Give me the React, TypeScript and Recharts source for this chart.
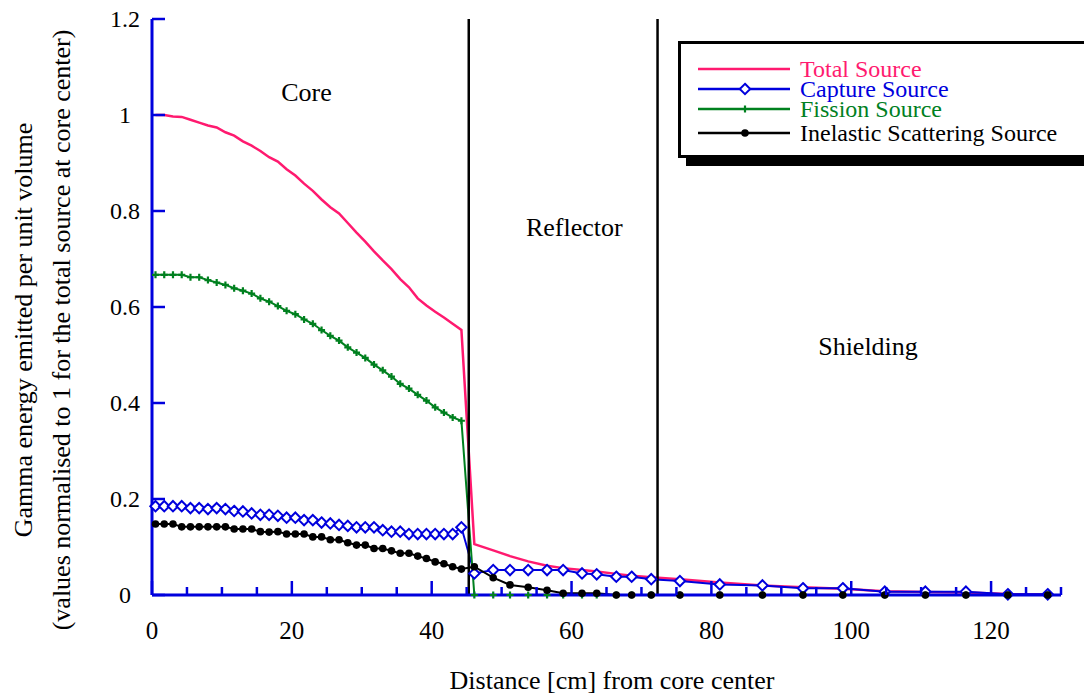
import React from 'react';
import { LineChart, Line, XAxis, YAxis, ReferenceLine, ReferenceDot, Legend } from 'recharts';

// distance from core center [cm]: core mesh, reflector mesh, shielding mesh
const distance = [
  0.5, 1.75, 3.0, 4.25, 5.5, 6.75, 8.0, 9.25, 10.5, 11.75, 13.0, 14.25, 15.5, 16.75, 18.0, 19.25,
  20.5, 21.75, 23.0, 24.25, 25.5, 26.75, 28.0, 29.25, 30.5, 31.75, 33.0, 34.25, 35.5, 36.75, 38.0,
  39.25, 40.5, 41.75, 43.0, 44.25,
  46.1, 48.8, 51.2, 53.8, 56.5, 58.8, 61.5, 63.6, 66.4, 68.6, 71.4,
  75.5, 81.2, 87.3, 93.1, 98.8, 104.8, 110.6, 116.4, 122.4, 128.1,
];

const totalSource = [
  1.0, 1.0, 0.997, 0.996, 0.99, 0.984, 0.978, 0.974, 0.964, 0.957, 0.945, 0.936, 0.925, 0.912, 0.903, 0.887,
  0.874, 0.857, 0.842, 0.824, 0.808, 0.795, 0.775, 0.755, 0.736, 0.716, 0.697, 0.679, 0.658, 0.641, 0.618,
  0.603, 0.59, 0.578, 0.565, 0.552,
  0.106, 0.093, 0.081, 0.07, 0.061, 0.056, 0.052, 0.049, 0.044, 0.04, 0.037,
  0.033, 0.026, 0.02, 0.016, 0.013, 0.008, 0.006, 0.005, 0.002, 0.001,
];

const captureSource = [
  0.185, 0.185, 0.185, 0.185, 0.181, 0.181, 0.179, 0.181, 0.179, 0.175, 0.174, 0.17, 0.167, 0.167, 0.165, 0.161,
  0.161, 0.156, 0.156, 0.151, 0.149, 0.146, 0.144, 0.141, 0.141, 0.141, 0.135, 0.132, 0.132, 0.127, 0.127,
  0.127, 0.127, 0.127, 0.127, 0.141,
  0.045, 0.052, 0.052, 0.052, 0.052, 0.052, 0.045, 0.043, 0.038, 0.038, 0.033,
  0.029, 0.022, 0.02, 0.014, 0.014, 0.007, 0.007, 0.007, 0.0015, 0.0015,
];

const fissionSource = [
  0.667, 0.667, 0.667, 0.667, 0.662, 0.662, 0.656, 0.651, 0.646, 0.639, 0.634, 0.628, 0.618, 0.611, 0.602, 0.592,
  0.585, 0.574, 0.565, 0.552, 0.54, 0.53, 0.516, 0.505, 0.494, 0.48, 0.468, 0.455, 0.44, 0.43, 0.417,
  0.405, 0.391, 0.38, 0.37, 0.363,
  0, 0, 0, 0, 0, 0, 0, 0, 0, 0, 0,
  0, 0, 0, 0, 0, 0, 0, 0, 0, 0,
];

const inelasticSource = [
  0.148, 0.148, 0.148, 0.142, 0.142, 0.142, 0.142, 0.142, 0.142, 0.1375, 0.1375, 0.1375, 0.132, 0.131, 0.132, 0.127,
  0.127, 0.127, 0.121, 0.121, 0.115, 0.115, 0.109, 0.104, 0.104, 0.097, 0.097, 0.092, 0.087, 0.087, 0.081,
  0.076, 0.069, 0.065, 0.059, 0.054,
  0.059, 0.036, 0.021, 0.016, 0.01, 0.0035, 0.0035, 0.0035, 0, 0, 0,
  0, 0, 0, 0, 0, 0, 0, 0, 0, 0,
];

const xTicks = [0, 5, 10, 15, 20, 25, 30, 35, 40, 45, 50, 55, 60, 65, 70, 75, 80, 85, 90, 95, 100, 105, 110, 115, 120, 125, 130];
const yTicks = [0, 0.2, 0.4, 0.6, 0.8, 1, 1.2];

const regionBounds = [45.3, 72.3];
const regionNames = ['Core', 'Reflector', 'Shielding'];
const regionNameX = [22.1, 60.4, 102.4];
const regionNameY = [1.048, 0.767, 0.519];

const BLUE = '#0000dd';
const PINK = '#ff1a6f';
const GREEN = '#00801f';
const BLACK = '#000000';
const FONT = '"Liberation Serif", "Times New Roman", serif';

const series = [
  { key: 'total', name: 'Total Source', color: PINK, marker: 'none' },
  { key: 'capture', name: 'Capture Source', color: BLUE, marker: 'diamond' },
  { key: 'fission', name: 'Fission Source', color: GREEN, marker: 'plus' },
  { key: 'inelastic', name: 'Inelastic Scattering Source', color: BLACK, marker: 'circle' },
];

const data = distance.map((x, i) => ({
  x,
  total: totalSource[i],
  capture: captureSource[i],
  fission: fissionSource[i],
  inelastic: inelasticSource[i],
}));

function marker(type: string, cx: number, cy: number, color: string, key?: string) {
  if (type === 'diamond') {
    const r = 5.2;
    return (
      <path key={key} d={`M${cx},${cy - r}L${cx + r},${cy}L${cx},${cy + r}L${cx - r},${cy}Z`}
        fill="#fff" stroke={color} strokeWidth={2} />
    );
  }
  if (type === 'plus') {
    const r = 3.5;
    return (
      <path key={key} d={`M${cx - r},${cy}H${cx + r}M${cx},${cy - r}V${cy + r}`} stroke={color} strokeWidth={2.2} />
    );
  }
  if (type === 'circle') {
    return <circle key={key} cx={cx} cy={cy} r={3.8} fill={color} />;
  }
  return <g key={key} />;
}

const dotFor = (type: string, color: string) => (p: any) =>
  marker(type, p.cx, p.cy, color, `${type}-${p.index}`);

const LeftTick = ({ x, y, payload }: any) => (
  <g>
    <line x1={x} y1={y} x2={x + 13} y2={y} stroke={BLUE} strokeWidth={2.5} />
    <text x={x - 27} y={y} textAnchor="middle" dominantBaseline="central" fontSize={24} fontFamily={FONT} fill="#000">
      {payload.value}
    </text>
  </g>
);

const RightTick = ({ x, y }: any) => (
  <line x1={x} y1={y} x2={x - 13} y2={y} stroke={BLUE} strokeWidth={2.5} />
);

const BottomTick = ({ x, y, payload }: any) => {
  const major = payload.value % 20 === 0;
  return (
    <g>
      <line x1={x} y1={y} x2={x} y2={y - (major ? 14 : 8)} stroke={BLUE} strokeWidth={2.5} />
      {major && (
        <text x={x} y={y + 35} textAnchor="middle" dominantBaseline="central" fontSize={25} fontFamily={FONT} fill="#000">
          {payload.value}
        </text>
      )}
    </g>
  );
};

const TopTick = ({ x, y, payload }: any) => {
  const major = payload.value % 20 === 0;
  return <line x1={x} y1={y} x2={x} y2={y + (major ? 14 : 8)} stroke={BLUE} strokeWidth={2.5} />;
};

const YTitle = () => (
  <g fontFamily={FONT} fontSize={26} fill="#000">
    <text transform="translate(23,330) rotate(-90)" textAnchor="middle" dominantBaseline="central">
      Gamma energy emitted per unit volume
    </text>
    <text transform="translate(61,330) rotate(-90)" textAnchor="middle" dominantBaseline="central">
      (values normalised to 1 for the total source at core center)
    </text>
  </g>
);

const XTitle = () => (
  <text x={612} y={680} textAnchor="middle" dominantBaseline="central" fontFamily={FONT} fontSize={26} fill="#000">
    Distance [cm] from core center
  </text>
);

const LegendBox = () => (
  <div style={{
    width: 440, height: 117, boxSizing: 'border-box', border: '3px solid #000', background: '#fff',
    boxShadow: '8px 8px 0 #000', paddingTop: 15, fontFamily: FONT,
  }}>
    {series.map((s, i) => (
      <div key={s.key} style={{ display: 'flex', alignItems: 'center', height: 20, marginTop: i === 3 ? 4 : 0 }}>
        <svg width={117} height={20} style={{ flex: 'none' }}>
          <line x1={17} y1={10} x2={109} y2={10} stroke={s.color} strokeWidth={2.5} />
          {marker(s.marker, 64, 10, s.color)}
        </svg>
        <span style={{ color: s.color, fontSize: 24, lineHeight: '20px', whiteSpace: 'nowrap', marginLeft: 2 }}>
          {s.name}
        </span>
      </div>
    ))}
  </div>
);

export default function App() {
  return (
    <div style={{ position: 'absolute', left: 0, top: 0, width: 1084, height: 695, overflow: 'hidden', background: '#fff' }}>
      <LineChart width={1084} height={695} data={data} margin={{ top: 19, right: 23, bottom: 0, left: 0 }}>
        <XAxis dataKey="x" type="number" domain={[0, 130]} ticks={xTicks} interval={0} height={100}
          axisLine={{ stroke: BLUE, strokeWidth: 3 }} tickLine={false} tickSize={0} tickMargin={0}
          tick={BottomTick} label={XTitle} />
        <XAxis xAxisId="top" orientation="top" dataKey="x" type="number" domain={[0, 130]} allowDataOverflow
          ticks={xTicks} interval={0} height={0} axisLine={{ stroke: BLUE, strokeWidth: 3 }} tickLine={false}
          tickSize={0} tickMargin={0} tick={TopTick} />
        <YAxis type="number" domain={[0, 1.2]} ticks={yTicks} interval={0} width={152}
          axisLine={{ stroke: BLUE, strokeWidth: 3 }} tickLine={false} tickSize={0} tickMargin={0}
          tick={LeftTick} label={YTitle} />
        <YAxis yAxisId="right" orientation="right" type="number" domain={[0, 1.2]} allowDataOverflow
          ticks={yTicks} interval={0} width={0} axisLine={{ stroke: BLUE, strokeWidth: 3 }} tickLine={false}
          tickSize={0} tickMargin={0} tick={RightTick} />

        <Line dataKey="total" stroke={PINK} strokeWidth={2.5} dot={false} activeDot={false} isAnimationActive={false} />
        <Line dataKey="capture" stroke={BLUE} strokeWidth={2} dot={dotFor('diamond', BLUE)} activeDot={false} isAnimationActive={false} />
        <Line dataKey="fission" stroke={GREEN} strokeWidth={2} dot={dotFor('plus', GREEN)} activeDot={false} isAnimationActive={false} />
        <Line dataKey="inelastic" stroke={BLACK} strokeWidth={2} dot={dotFor('circle', BLACK)} activeDot={false} isAnimationActive={false} />

        {regionBounds.map((b) => (
          <ReferenceLine key={b} x={b} stroke="#000" strokeWidth={2.5} />
        ))}
        {regionNames.map((name, i) => (
          <ReferenceDot key={name} x={regionNameX[i]} y={regionNameY[i]} r={0} fill="none" stroke="none"
            label={{ value: name, position: 'center', fill: '#000', fontSize: 26, fontFamily: FONT }} />
        ))}

        <Legend content={LegendBox} layout="horizontal" verticalAlign="middle" align="center"
          wrapperStyle={{ left: 678, top: 41, width: 440 }} />
      </LineChart>
    </div>
  );
}
